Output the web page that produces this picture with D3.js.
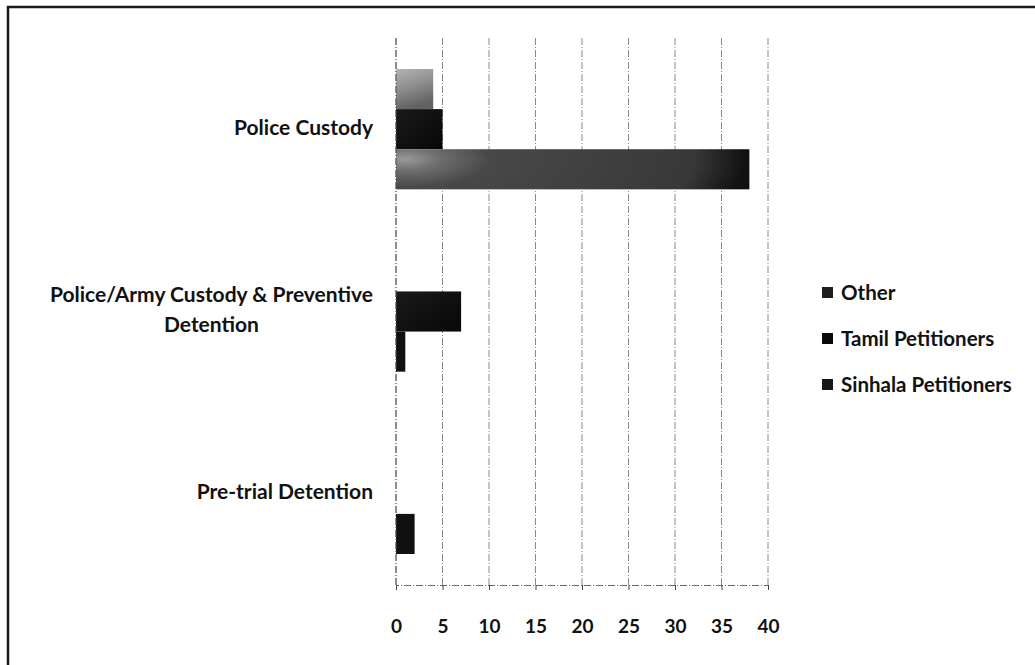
<!DOCTYPE html>
<html>
<head>
<meta charset="utf-8">
<script src="https://cdn.jsdelivr.net/npm/d3@7"></script>
<style>
  html, body { margin: 0; padding: 0; background: #fff; }
  svg { display: block; }
  text { font-family: Lato, "Open Sans", sans-serif; font-weight: bold; fill: #111; }
</style>
</head>
<body>
<svg id="chart" width="1035" height="665"></svg>
<script>
const categories = ["Police Custody", "Police/Army Custody & Preventive Detention", "Pre-trial Detention"];
const categoryLines = [["Police Custody"], ["Police/Army Custody & Preventive", "Detention"], ["Pre-trial Detention"]];
const seriesNames = ["Other", "Tamil Petitioners", "Sinhala Petitioners"];
const otherValues = [4, 0, 0];
const tamilValues = [5, 7, 0];
const sinhalaValues = [38, 1, 2];
const xTicks = [0, 5, 10, 15, 20, 25, 30, 35, 40];

const seriesValues = [otherValues, tamilValues, sinhalaValues];
const fills = ["url(#gOther)", "url(#gTamil)", null];

const svg = d3.select("#chart");
const defs = svg.append("defs");
function grad(id, stops, x2, y2) {
  const g = defs.append("linearGradient").attr("id", id)
    .attr("x1", 0).attr("y1", 0).attr("x2", x2).attr("y2", y2);
  stops.forEach(s => g.append("stop").attr("offset", s[0]).attr("stop-color", s[1]));
}
grad("gOther", [[0, "#b4b4b4"], [0.5, "#8e8e8e"], [1, "#626262"]], 0.3, 1);
grad("gTamil", [[0, "#1a1a1a"], [1, "#070707"]], 1, 1);

const x = d3.scaleLinear().domain([0, 40]).range([396, 768]);
const y = d3.scaleBand().domain(categories).range([38, 585]).paddingInner(0.34).paddingOuter(0.17);
const ySub = d3.scaleBand().domain(seriesNames).range([0, y.bandwidth()]);

// Sinhala fill: lighter patch near the axis of the first band, dark elsewhere
const sStops = [[0, "#9a9a9a"], [0.1, "#6e6e6e"], [0.25, "#484848"], [0.85, "#383838"], [0.96, "#1c1c1c"], [1, "#111"]];
const sCx = x(1), sCyAbs = y(categories[0]) + ySub("Sinhala Petitioners") + 10;

// outer border
svg.append("rect").attr("x", 8).attr("y", 7).attr("width", 1040).attr("height", 670)
  .attr("fill", "none").attr("stroke", "#1a1a1a").attr("stroke-width", 2.5);

// gridlines
svg.append("g").selectAll("line").data(xTicks).join("line")
  .attr("x1", d => x(d)).attr("x2", d => x(d))
  .attr("y1", 38).attr("y2", 585)
  .attr("stroke", "#8a8a8a").attr("stroke-width", 1)
  .attr("stroke-dasharray", "7,2,1,2");

// bars
const groups = svg.append("g").selectAll("g").data(categories).join("g")
  .attr("transform", c => `translate(0,${y(c)})`);
groups.selectAll("rect")
  .data((c, i) => seriesNames.map((s, j) => ({ s, j, v: seriesValues[j][i], c, i })))
  .join("rect")
  .attr("x", x(0))
  .attr("y", d => ySub(d.s))
  .attr("width", d => x(d.v) - x(0))
  .attr("height", ySub.bandwidth())
  .attr("fill", d => {
    if (d.j !== 2) return fills[d.j];
    const id = "gS" + d.i;
    const cy = sCyAbs - y(d.c);
    const g2 = defs.append("radialGradient").attr("id", id)
      .attr("gradientUnits", "userSpaceOnUse")
      .attr("cx", sCx).attr("cy", cy).attr("r", 340)
      .attr("gradientTransform", `translate(${sCx},${cy}) scale(1,0.33) translate(${-sCx},${-cy})`);
    sStops.forEach(s => g2.append("stop").attr("offset", s[0]).attr("stop-color", s[1]));
    return `url(#${id})`;
  });

// x axis
const xAxis = d3.axisBottom(x).tickValues(xTicks).tickSize(5).tickPadding(30).tickFormat(d3.format("d"));
const gx = svg.append("g").attr("transform", "translate(0,585)").call(xAxis);
gx.select(".domain").attr("stroke", "#666").attr("stroke-dasharray", "7,2,1,2");
gx.selectAll(".tick line").attr("stroke", "#444");
gx.selectAll(".tick text").attr("font-size", 19).attr("font-family", "Lato, sans-serif")
  .attr("font-weight", "bold").attr("fill", "#111");

// y axis line
svg.append("line").attr("x1", x(0)).attr("x2", x(0)).attr("y1", 38).attr("y2", 585)
  .attr("stroke", "#555").attr("stroke-dasharray", "7,2,1,2");

// category labels
const labelRight = 373;
categories.forEach((c, i) => {
  const lines = categoryLines[i];
  const cy = y(c) + y.bandwidth() / 2;
  const lh = 30;
  const t = svg.append("text").attr("font-size", 21);
  const spans = lines.map((ln, k) => t.append("tspan")
    .attr("y", cy - 2 + (k - (lines.length - 1) / 2) * lh)
    .attr("dy", "0.35em").text(ln));
  const widths = spans.map(s => s.node().getComputedTextLength());
  const maxW = Math.max(...widths);
  const center = labelRight - maxW / 2;
  spans.forEach(s => s.attr("x", center).attr("text-anchor", "middle"));
});

// legend
const legend = svg.append("g").selectAll("g").data(seriesNames).join("g")
  .attr("transform", (d, i) => `translate(822,${293 + i * 46})`);
legend.append("rect").attr("x", 0).attr("y", -6).attr("width", 11).attr("height", 11)
  .attr("fill", (d, i) => ["#1e1e1e", "#0a0a0a", "#161616"][i]);
legend.append("text").attr("x", 19).attr("dy", "0.35em").attr("font-size", 20.5).text(d => d);
</script>
</body>
</html>
